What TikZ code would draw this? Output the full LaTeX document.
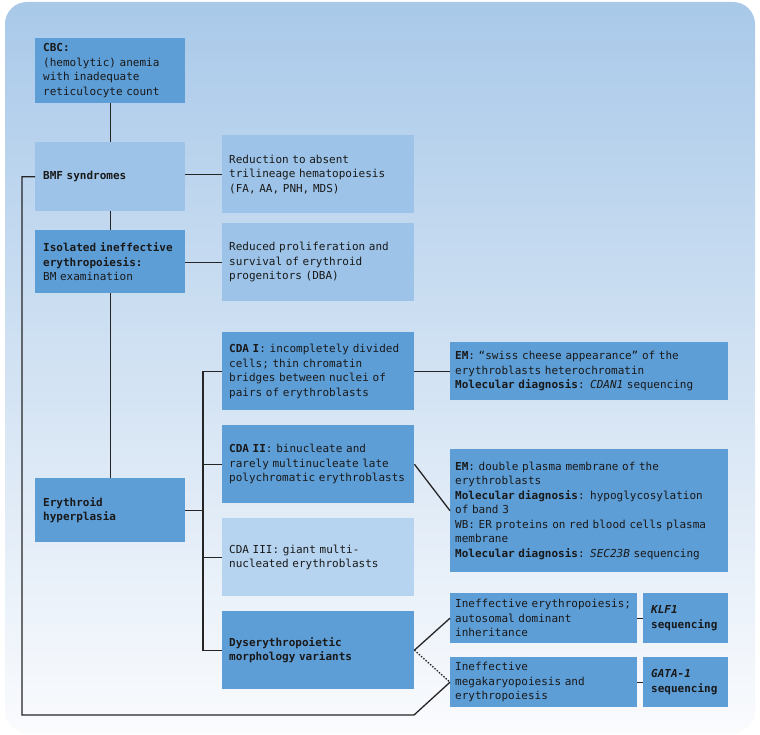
\documentclass[tikz,border=0pt]{standalone}
\usepackage{fontspec}
\setmonofont{DejaVu Sans Mono}
\usepackage{tikz}
\usepackage{xcolor}
\definecolor{boxdark}{HTML}{5E9ED7}
\definecolor{boxlight}{HTML}{9DC3E8}
\definecolor{boxpale}{HTML}{B6D4F0}
\definecolor{bgtop}{HTML}{A9C9E9}
\definecolor{bgmid}{HTML}{CFE0F2}
\definecolor{bgbot}{HTML}{FAFBFD}
\definecolor{linkgray}{HTML}{252525}
\newcommand{\boxfont}{\ttfamily\fontsize{11}{14.5}\selectfont}
\tikzset{
    flow-box/.style = {rectangle, anchor=north west, inner xsep=8pt, inner ysep=2pt, align=left, font=\boxfont, text=black!90},
    dark-box/.style = {flow-box, fill=boxdark},
    light-box/.style = {flow-box, fill=boxlight},
    pale-box/.style = {flow-box, fill=boxpale},
    link/.style = {draw=linkgray, line width=1.3pt},
}

\begin{document}
\begin{tikzpicture}[x=1pt, y=-1pt]
\useasboundingbox (0,0) rectangle (760,735);
\shade[top color=bgtop, middle color=bgmid, bottom color=bgbot, rounded corners=22pt] (5,2) rectangle (755,733);

\node[dark-box, text width=134pt, minimum height=65pt] (cbc) at (35,38) {\textbf{CBC:}\\(hemolytic) anemia\\with inadequate\\reticulocyte count};
\node[light-box, text width=134pt, minimum height=69pt] (bmf) at (35,142) {\textbf{BMF syndromes}};
\node[light-box, text width=178pt, minimum height=78pt, inner xsep=7pt] (redu) at (222,135) {Reduction to absent\\trilineage hematopoiesis\\(FA, AA, PNH, MDS)};
\node[dark-box, text width=134pt, minimum height=63pt] (iso) at (35,230) {\textbf{Isolated ineffective}\\\textbf{erythropoiesis:}\\BM examination};
\node[light-box, text width=178pt, minimum height=78pt, inner xsep=7pt] (prolif) at (222,223) {Reduced proliferation and\\survival of erythroid\\progenitors (DBA)};
\node[dark-box, text width=134pt, minimum height=64pt] (ery) at (35,478) {\textbf{Erythroid}\\\textbf{hyperplasia}};

\node[dark-box, text width=178pt, minimum height=78pt, inner xsep=7pt] (cdaA) at (222,332) {\textbf{CDA I}: incompletely divided\\cells; thin chromatin\\bridges between nuclei of\\pairs of erythroblasts};
\node[dark-box, text width=178pt, minimum height=78pt, inner xsep=7pt] (cdaB) at (222,425) {\textbf{CDA II}: binucleate and\\rarely multinucleate late\\polychromatic erythroblasts};
\node[pale-box, text width=178pt, minimum height=78pt, inner xsep=7pt] (cdaC) at (222,518) {CDA III: giant multi-\\nucleated erythroblasts};
\node[dark-box, text width=178pt, minimum height=78pt, inner xsep=7pt] (dys) at (222,611) {\textbf{Dyserythropoietic}\\\textbf{morphology variants}};

\node[dark-box, text width=268pt, minimum height=58pt, inner xsep=5pt] (emA) at (450,342) {\textbf{EM}: “swiss cheese appearance” of the\\erythroblasts heterochromatin\\\textbf{Molecular diagnosis}: \textit{CDAN1} sequencing};
\node[dark-box, text width=268pt, minimum height=123pt, inner xsep=5pt] (emB) at (450,449) {\textbf{EM}: double plasma membrane of the\\erythroblasts\\\textbf{Molecular diagnosis}: hypoglycosylation\\of band 3\\WB: ER proteins on red blood cells plasma\\membrane\\\textbf{Molecular diagnosis}: \textit{SEC23B} sequencing};
\node[dark-box, text width=177pt, minimum height=50pt, inner xsep=5pt] (klfT) at (450,593) {Ineffective erythropoiesis;\\autosomal dominant\\inheritance};
\node[dark-box, text width=69pt, minimum height=50pt] (klf) at (643,593) {\textbf{\textit{KLF1}}\\\textbf{sequencing}};
\node[dark-box, text width=177pt, minimum height=50pt, inner xsep=5pt] (gataT) at (450,657) {Ineffective\\megakaryopoiesis and\\erythropoiesis};
\node[dark-box, text width=69pt, minimum height=50pt] (gata) at (643,657) {\textbf{\textit{GATA-1}}\\\textbf{sequencing}};

\coordinate (trunk) at (203,0);
\coordinate (turn) at (22,715);
\coordinate (ret) at (414,715);

\draw[link] (cbc) -- (bmf);
\draw[link] (redu.west) -- (redu.west -| bmf.east);
\draw[link] (bmf) -- (iso);
\draw[link] (prolif.west) -- (prolif.west -| iso.east);
\draw[link] (iso) -- (ery);
\draw[link] (ery.east) -- (ery.east -| trunk);
\draw[link] (cdaA.west) -- (cdaA.west -| trunk) -- (dys.west -| trunk) -- (dys.west);
\draw[link] (cdaB.west) -- (cdaB.west -| trunk);
\draw[link] (cdaC.west) -- (cdaC.west -| trunk);
\draw[link] (cdaA) -- (emA);
\draw[link] (cdaB.east) -- (emB.west);
\draw[link] (dys.east) -- (klfT.west);
\draw[link, dash pattern=on 1.5pt off 1.5pt] (dys.east) -- (gataT.west);
\draw[link] (klfT) -- (klf);
\draw[link] (gataT) -- (gata);
\draw[link] (bmf.west) -| (turn) -- (ret) -- (gataT.west);
\end{tikzpicture}
\end{document}
